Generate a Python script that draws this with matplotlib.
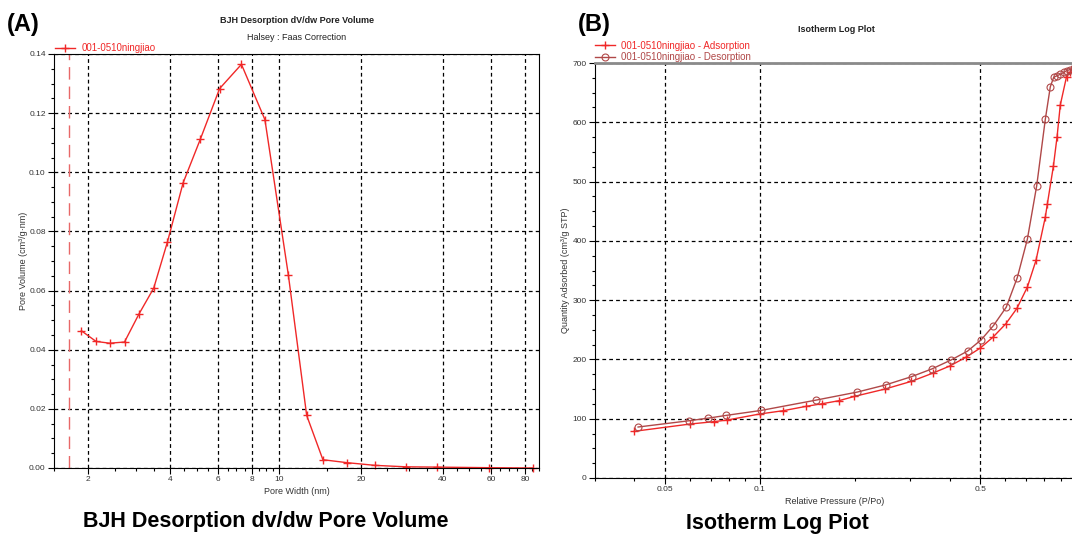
import numpy as np
import matplotlib
matplotlib.use("Agg")
import matplotlib.pyplot as plt
from matplotlib.ticker import FixedLocator, MultipleLocator, LogLocator, NullFormatter, FormatStrFormatter

plt.rcParams["font.family"] = ["Liberation Sans", "DejaVu Sans"]

# BJH desorption dV/dw pore volume
pore_width = [1.89, 2.14, 2.40, 2.72, 3.07, 3.48, 3.91, 4.46, 5.16, 6.07, 7.30, 8.90,
              10.85, 12.66, 14.52, 17.81, 22.5, 29.2, 38.0, 59.2, 85.4]
pore_volume = [0.0464, 0.0428, 0.0422, 0.0426, 0.0520, 0.0608, 0.0765, 0.0964, 0.1112,
               0.1283, 0.1365, 0.1178, 0.0652, 0.0178, 0.0028, 0.0018, 0.0009, 0.0004,
               0.0003, 0.0001, 0.0]
cutoff_width = 1.7

# isotherm (log pressure axis)
p_ads = [0.0399, 0.060, 0.0714, 0.0789, 0.100, 0.1186, 0.140, 0.1577, 0.178, 0.1995,
         0.2494, 0.3025, 0.3544, 0.401, 0.4517, 0.500, 0.5493, 0.603, 0.654, 0.706,
         0.752, 0.805, 0.817, 0.854, 0.877, 0.898, 0.94, 0.965, 0.99]
q_ads = [78.7, 91, 95, 97.8, 108, 113.5, 120.8, 125.3, 130.3, 137.6,
         150, 163, 177, 189, 204, 219, 237.6, 260, 286, 322,
         367, 440, 462, 526, 575, 629, 677, 685, 690]
p_des = [0.0411, 0.0597, 0.0687, 0.0782, 0.101, 0.1512, 0.204, 0.2506, 0.3032, 0.3516,
         0.4042, 0.456, 0.5036, 0.551, 0.605, 0.656, 0.706, 0.756, 0.805, 0.835,
         0.856, 0.877, 0.898, 0.92, 0.94, 0.965, 0.99]
q_des = [86, 96.6, 101, 105.6, 114, 131.5, 145, 157, 171, 184,
         199, 214, 233, 257, 288, 338, 402.6, 493, 605, 660,
         676, 678.5, 681, 684, 687, 689, 692]

sample = "001-0510ningjiao"
red = "#f02828"
brown = "#b04848"
tick_col = "#333333"

W, H = 1072, 534
fig = plt.figure(figsize=(W / 100, H / 100), dpi=100)


def box(l, t, r, b):
    return [l / W, 1 - b / H, (r - l) / W, (b - t) / H]


def style(ax):
    ax.tick_params(which="both", direction="out", colors="black", labelcolor=tick_col,
                   labelsize=6, width=0.8)
    ax.tick_params(which="major", length=4, pad=2)
    ax.tick_params(which="minor", length=2.5)
    ax.grid(True, which="major", color="black", linestyle=(0, (3, 2.5)), linewidth=0.9)
    for s in ax.spines.values():
        s.set_linewidth(0.8)


# ---- left: pore size distribution
ax1 = fig.add_axes(box(54, 54, 539, 468))
ax1.set_xscale("log")
ax1.axvline(cutoff_width, color="#e86868", linestyle=(0, (9, 5)), linewidth=1)
ax1.plot(pore_width, pore_volume, color=red, linewidth=1, marker="+", markersize=6,
         markeredgewidth=1, label=sample, clip_on=False)
ax1.set_xlim(1.5, 90)
ax1.set_ylim(0, 0.14)
ax1.xaxis.set_major_locator(FixedLocator([2, 4, 6, 8, 10, 20, 40, 60, 80]))
ax1.xaxis.set_major_formatter(FormatStrFormatter("%g"))
minor = list(np.arange(1.5, 10, 0.5)) + list(np.arange(15, 91, 5))
ax1.xaxis.set_minor_locator(FixedLocator(minor))
ax1.xaxis.set_minor_formatter(NullFormatter())
ax1.yaxis.set_major_locator(MultipleLocator(0.02))
ax1.yaxis.set_minor_locator(MultipleLocator(0.005))
ax1.yaxis.set_major_formatter(FormatStrFormatter("%.2f"))
style(ax1)
ax1.set_xlabel("Pore Width (nm)", fontsize=6.5, color=tick_col, labelpad=3)
ax1.set_ylabel("Pore Volume (cm³/g·nm)", fontsize=6.5, color=tick_col, labelpad=1)
ax1.legend(loc="lower left", bbox_to_anchor=(55 / W, 1 - 53 / H), bbox_transform=fig.transFigure,
           frameon=False, fontsize=7, labelcolor=red, handlelength=2.1, handletextpad=0.6,
           borderpad=0, borderaxespad=0)

# ---- right: isotherm
ax2 = fig.add_axes(box(595, 63, 1075, 478))
ax2.set_xscale("log")
ax2.plot(p_ads, q_ads, color=red, linewidth=1, marker="+", markersize=6,
         markeredgewidth=1, label=sample + " - Adsorption")
ax2.plot(p_des, q_des, color=brown, linewidth=1, marker="o", markersize=5,
         markerfacecolor="none", markeredgewidth=0.8, label=sample + " - Desorption")
ax2.set_xlim(0.03, 1.0)
ax2.set_ylim(0, 700)
ax2.xaxis.set_major_locator(FixedLocator([0.05, 0.1, 0.5]))
ax2.xaxis.set_major_formatter(FormatStrFormatter("%g"))
ax2.xaxis.set_minor_locator(LogLocator(base=10, subs=np.arange(1, 10)))
ax2.xaxis.set_minor_formatter(NullFormatter())
ax2.yaxis.set_major_locator(MultipleLocator(100))
ax2.yaxis.set_minor_locator(MultipleLocator(25))
style(ax2)
ax2.spines["top"].set_color("#8a8a8a")
ax2.spines["top"].set_linewidth(2)
ax2.spines["right"].set_visible(False)
ax2.set_xlabel("Relative Pressure (P/Po)", fontsize=6.5, color=tick_col, labelpad=3)
ax2.set_ylabel("Quantity Adsorbed (cm³/g STP)", fontsize=6.5, color=tick_col, labelpad=2)
leg = ax2.legend(loc="lower left", bbox_to_anchor=(595 / W, 1 - 62 / H),
                 bbox_transform=fig.transFigure, frameon=False, fontsize=7,
                 handlelength=2.1, handletextpad=0.6, labelspacing=0.15,
                 borderpad=0, borderaxespad=0)
for txt, c in zip(leg.get_texts(), [red, brown]):
    txt.set_color(c)

# titles and panel letters
fig.text(297 / W, 1 - 20.5 / H, "BJH Desorption dV/dw Pore Volume", fontsize=6.5,
         fontweight="bold", color="#222222", ha="center", va="center")
fig.text(297 / W, 1 - 37 / H, "Halsey : Faas Correction", fontsize=6.5,
         color="#222222", ha="center", va="center")
fig.text(836 / W, 1 - 30 / H, "Isotherm Log Plot", fontsize=6.5,
         fontweight="bold", color="#222222", ha="center", va="center")
fig.text(7 / W, 1 - 24 / H, "(A)", fontsize=17, fontweight="bold", ha="left", va="center")
fig.text(578 / W, 1 - 25 / H, "(B)", fontsize=17, fontweight="bold", ha="left", va="center")

fig.text(266 / W, 1 - 521 / H, "BJH Desorption dv/dw Pore Volume", fontsize=15.5,
         fontweight="bold", ha="center", va="center")
fig.text(777 / W, 1 - 523 / H, "Isotherm Log Piot", fontsize=15.5,
         fontweight="bold", ha="center", va="center")

fig.savefig("out.png", dpi=100)
